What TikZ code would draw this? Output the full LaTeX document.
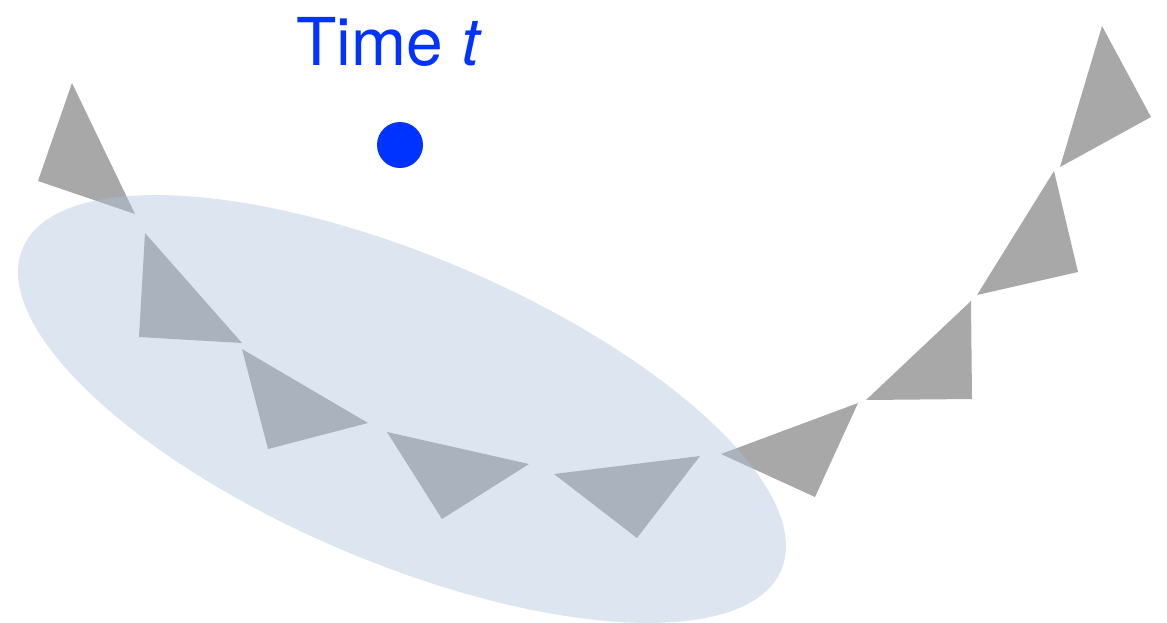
\documentclass[tikz,border=0pt]{standalone}
\usepackage{fontspec}
\setmainfont{TeX Gyre Heros}
\usepackage{xcolor}
\usepackage{tikz}
\definecolor{timeblue}{HTML}{0033FF}
\definecolor{camgray}{HTML}{A8A8A8}
\definecolor{blobblue}{HTML}{ABC1DB}

\tikzset{
  cam/.style={fill=camgray},
  blob/.style={fill=blobblue, fill opacity=0.42},
}

\begin{document}
\begin{tikzpicture}[x=1pt, y=-1pt]
    \useasboundingbox (0,0) rectangle (1167,622);
    % camera triangles along the path
    \foreach \ax/\ay/\bx/\by/\cx/\cy in {
        72/83/38/181/135/214,
        145/233/139/337/242/343,
        242/349/268/449/368/423,
        387/432/442/519/529/464,
        554/474/700/456/637/538,
        721/454/858/403/815/497,
        866/400/971/301/972/399,
        977/295/1054/171/1078/272,
        1060/167/1102/26/1151/117}
      \fill[cam] (\ax,\ay) -- (\bx,\by) -- (\cx,\cy) -- cycle;
    % window
    \fill[blob, shift={(402,409)}, rotate=-23] (0,0) ellipse [x radius=412, y radius=153];
    \node[circle, fill=timeblue, inner sep=0pt, minimum size=46pt] (dot) at (400,145) {};
    \node[anchor=base west, inner sep=0pt, text=timeblue, font=\fontsize{66}{80}\selectfont] (time) at (296,65) {Time \textit{t}};
\end{tikzpicture}
\end{document}
